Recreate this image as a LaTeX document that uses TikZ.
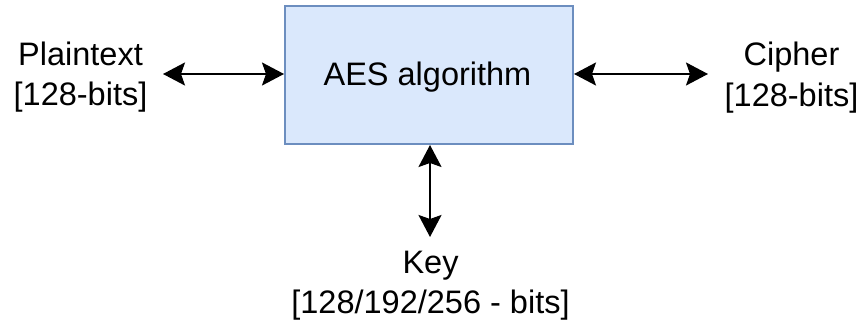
\documentclass[tikz,border=0pt]{standalone}
\usepackage{fontspec}
\setmainfont{Liberation Sans}
\usetikzlibrary{arrows.meta}
\definecolor{boxfill}{HTML}{DAE8FC}
\definecolor{boxline}{HTML}{6C8EBF}
\begin{document}
\begin{tikzpicture}[x=1pt,y=-1pt,
  label/.style={inner sep=0pt, align=center, font=\fontsize{32.5}{40.3}\selectfont, anchor=base},
  block/.style={draw=boxline, fill=boxfill, line width=2pt, minimum width=288pt, minimum height=138pt, inner sep=0pt},
  link/.style={line width=2pt, {Stealth[length=22pt,width=23pt,inset=4pt]}-{Stealth[length=22pt,width=23pt,inset=4pt]}}]
  \useasboundingbox (0,0) rectangle (861,320);
  % central block
  \node[block] (aes) at (429,75) {};
  \node[label] (aestxt) at (427.5,86) {AES algorithm};
  % side labels (anchored on the baseline of their last line)
  \node[label] (plain) at (80.5,106) {Plaintext\\{}{[}128-bits{]}};
  \node[label] (cipher) at (791.5,106.3) {Cipher\\{}{[}128-bits{]}};
  \node[label] (key) at (430.5,313.5) {Key\\{}{[}128/192/256 - bits{]}};
  % free ends of the connectors
  \coordinate (pend) at (163,74);
  \coordinate (cend) at (708,74);
  \coordinate (kend) at (430,237);
  % connectors
  \draw[link] (pend) -- (aes.west |- pend);
  \draw[link] (aes.east |- cend) -- (cend);
  \draw[link] (aes.south -| kend) -- (kend);
\end{tikzpicture}
\end{document}
